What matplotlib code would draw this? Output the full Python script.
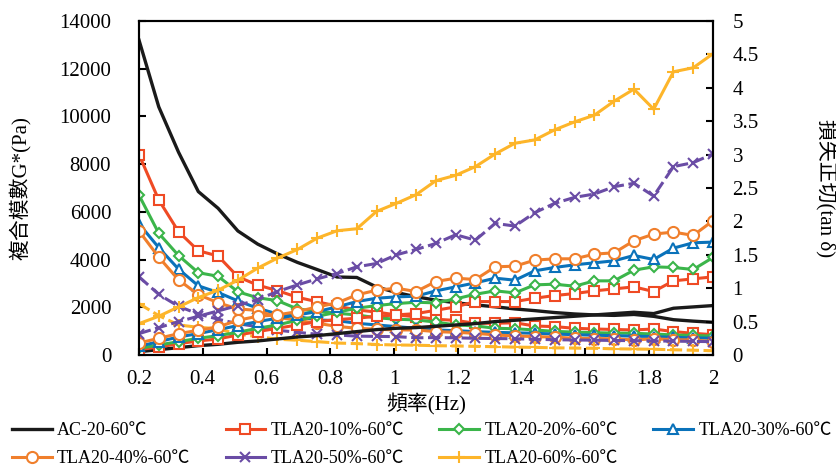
import numpy as np
import matplotlib.pyplot as plt

plt.rcParams['font.family'] = ['Liberation Serif', 'Noto Sans CJK TC']
plt.rcParams['axes.unicode_minus'] = False

# 頻率 (Hz)
freq = [0.2, 0.262, 0.324, 0.386, 0.448, 0.510, 0.572, 0.634, 0.697, 0.759,
        0.821, 0.883, 0.945, 1.007, 1.069, 1.131, 1.193, 1.255, 1.317, 1.379,
        1.441, 1.503, 1.566, 1.628, 1.690, 1.752, 1.814, 1.876, 1.938, 2.0]

names = ['AC-20-60℃', 'TLA20-10%-60℃', 'TLA20-20%-60℃', 'TLA20-30%-60℃',
         'TLA20-40%-60℃', 'TLA20-50%-60℃', 'TLA20-60%-60℃']

# 複合模數 G* (Pa), eje izquierdo
ac_g = [13200, 10400, 8500, 6850, 6150, 5200, 4650, 4240, 3880, 3580, 3270, 3250, 2850, 2620, 2440,
        2300, 2190, 2100, 2020, 1930, 1860, 1780, 1720, 1680, 1660, 1700, 1620, 1480, 1420, 1370]
red_g = [8400, 6500, 5170, 4370, 4150, 3280, 2930, 2700, 2420, 2230, 2050, 1890, 1800, 1680, 1600,
         1500, 1450, 1330, 1330, 1350, 1215, 1190, 1120, 1090, 1070, 1050, 1090, 980, 910, 850]
green_g = [6700, 5100, 4170, 3450, 3300, 2650, 2400, 2280, 1930, 1830, 1750, 1680, 1560, 1500, 1470,
           1380, 1260, 1220, 1120, 1100, 1050, 990, 960, 935, 920, 910, 880, 840, 820, 790]
blue_g = [5500, 4500, 3600, 2900, 2620, 2270, 1960, 1720, 1610, 1470, 1440, 1330, 1260, 1190, 1120,
          1050, 1020, 980, 950, 930, 910, 880, 850, 830, 810, 790, 770, 740, 720, 700]
orange_g = [5200, 4100, 3150, 2530, 2190, 1930, 1870, 1580, 1450, 1330, 1200, 1120, 1080, 1050, 1050,
            980, 950, 910, 840, 800, 770, 750, 700, 690, 680, 630, 680, 640, 630, 560]
purple_g = [3280, 2540, 2040, 1720, 1500, 1310, 1190, 1040, 950, 870, 840, 790, 780, 770, 720,
            730, 720, 700, 690, 680, 660, 640, 630, 620, 610, 600, 590, 580, 570, 560]
yellow_g = [2150, 1650, 1260, 1160, 1100, 870, 770, 660, 620, 560, 500, 480, 440, 420, 410,
            390, 380, 360, 350, 330, 320, 300, 290, 280, 260, 250, 240, 220, 200, 180]

# 損失正切 tan δ, eje derecho
ac_t = [0.05, 0.08, 0.11, 0.14, 0.16, 0.19, 0.21, 0.24, 0.27, 0.29, 0.32, 0.35, 0.38, 0.40, 0.41,
        0.43, 0.45, 0.47, 0.50, 0.52, 0.54, 0.56, 0.58, 0.60, 0.62, 0.64, 0.62, 0.70, 0.72, 0.74]
red_t = [0.08, 0.12, 0.17, 0.21, 0.24, 0.30, 0.35, 0.40, 0.45, 0.50, 0.53, 0.55, 0.58, 0.60, 0.62,
         0.67, 0.72, 0.80, 0.80, 0.80, 0.85, 0.89, 0.92, 0.96, 0.99, 1.02, 0.95, 1.11, 1.14, 1.17]
green_t = [0.10, 0.15, 0.20, 0.25, 0.29, 0.34, 0.40, 0.45, 0.52, 0.58, 0.64, 0.70, 0.74, 0.77, 0.79,
           0.78, 0.84, 0.91, 0.96, 0.93, 1.05, 1.06, 1.03, 1.11, 1.11, 1.27, 1.32, 1.31, 1.28, 1.46]
blue_t = [0.13, 0.20, 0.27, 0.32, 0.38, 0.44, 0.50, 0.55, 0.60, 0.65, 0.72, 0.80, 0.85, 0.87, 0.88,
          0.96, 1.02, 1.08, 1.15, 1.12, 1.26, 1.31, 1.35, 1.38, 1.41, 1.49, 1.43, 1.60, 1.68, 1.69]
orange_t = [0.18, 0.25, 0.32, 0.37, 0.42, 0.52, 0.58, 0.60, 0.65, 0.72, 0.78, 0.90, 0.97, 1.00, 0.95,
            1.10, 1.15, 1.13, 1.32, 1.33, 1.42, 1.44, 1.44, 1.51, 1.53, 1.71, 1.81, 1.84, 1.79, 2.01]
purple_t = [0.32, 0.41, 0.50, 0.58, 0.66, 0.74, 0.83, 0.95, 1.05, 1.14, 1.22, 1.32, 1.37, 1.50, 1.58,
            1.67, 1.80, 1.72, 1.97, 1.93, 2.13, 2.27, 2.36, 2.41, 2.52, 2.57, 2.38, 2.82, 2.88, 3.01]
yellow_t = [0.47, 0.58, 0.72, 0.86, 0.97, 1.12, 1.30, 1.45, 1.58, 1.75, 1.86, 1.89, 2.15, 2.27, 2.40,
            2.61, 2.69, 2.82, 3.01, 3.17, 3.22, 3.37, 3.49, 3.59, 3.80, 3.98, 3.68, 4.24, 4.30, 4.51]

g_data = [ac_g, red_g, green_g, blue_g, orange_g, purple_g, yellow_g]
t_data = [ac_t, red_t, green_t, blue_t, orange_t, purple_t, yellow_t]

colores = ['#1a1a1a', '#ef4a24', '#3bb54a', '#0a72ba', '#f07f2c', '#6a4ca5', '#fdb52a']
marcas = [None, 's', 'D', '^', 'o', 'x', '+']
tamanos = [0, 7.5, 5, 6.5, 8, 7, 8]
estilo_g = ['-', '-', '-', '-', '-', (0, (4, 1.5)), (0, (4, 1.5))]
estilo_t = ['-', '-', '-', '-', '-', (0, (4, 1.5)), '-']

fig = plt.figure(figsize=(8.37, 4.69), dpi=100)
ax = fig.add_axes([139/837, 1-355/469, 574/837, 334/469])
ax2 = ax.twinx()

handles = []
for i in range(7):
    lw = 2.4 if i == 0 else 2.2
    kw = dict(color=colores[i], lw=lw, marker=marcas[i], ms=tamanos[i],
              markerfacecolor='white', markeredgecolor=colores[i], markeredgewidth=1.5)
    if marcas[i] in ('x', '+'):
        kw['markerfacecolor'] = colores[i]
    ax.plot(freq, g_data[i], ls=estilo_g[i], **kw)
    ax2.plot(freq, t_data[i], ls=estilo_t[i], **kw)
    leg, = ax.plot([], [], ls='-', **kw)
    handles.append(leg)

ax.set_xlim(0.2, 2)
ax.set_ylim(0, 14000)
ax2.set_ylim(0, 5)
ax.set_xticks([0.2, 0.4, 0.6, 0.8, 1, 1.2, 1.4, 1.6, 1.8, 2])
ax.set_xticklabels(['0.2', '0.4', '0.6', '0.8', '1', '1.2', '1.4', '1.6', '1.8', '2'])
ax.set_yticks(range(0, 14001, 2000))
ax2.set_yticks([0, 0.5, 1, 1.5, 2, 2.5, 3, 3.5, 4, 4.5, 5])
ax2.set_yticklabels(['0', '0.5', '1', '1.5', '2', '2.5', '3', '3.5', '4', '4.5', '5'])

for a in (ax, ax2):
    a.tick_params(direction='in', length=5, width=1.5, labelsize=15)
    for s in a.spines.values():
        s.set_linewidth(1.5)
ax.tick_params(axis='x', pad=11)
ax.tick_params(axis='y', pad=20)
ax2.tick_params(axis='y', pad=14)

ax.set_xlabel('頻率(Hz)', fontsize=15, labelpad=3)
ax.set_ylabel('複合模數G*(Pa)', fontsize=15, labelpad=20)
ax2.set_ylabel('損失正切(tan δ)', fontsize=15, rotation=270, labelpad=56)

orden = [0, 4, 1, 5, 2, 6, 3]
fig.legend([handles[k] for k in orden], [names[k] for k in orden],
           loc='lower left', bbox_to_anchor=(10/837, 0.0), ncol=4, frameon=False,
           fontsize=13, handlelength=2.2, handletextpad=0.3, columnspacing=1.95,
           labelspacing=0.6, numpoints=1, borderaxespad=0, borderpad=0.1)

plt.savefig('out.png', dpi=100)
